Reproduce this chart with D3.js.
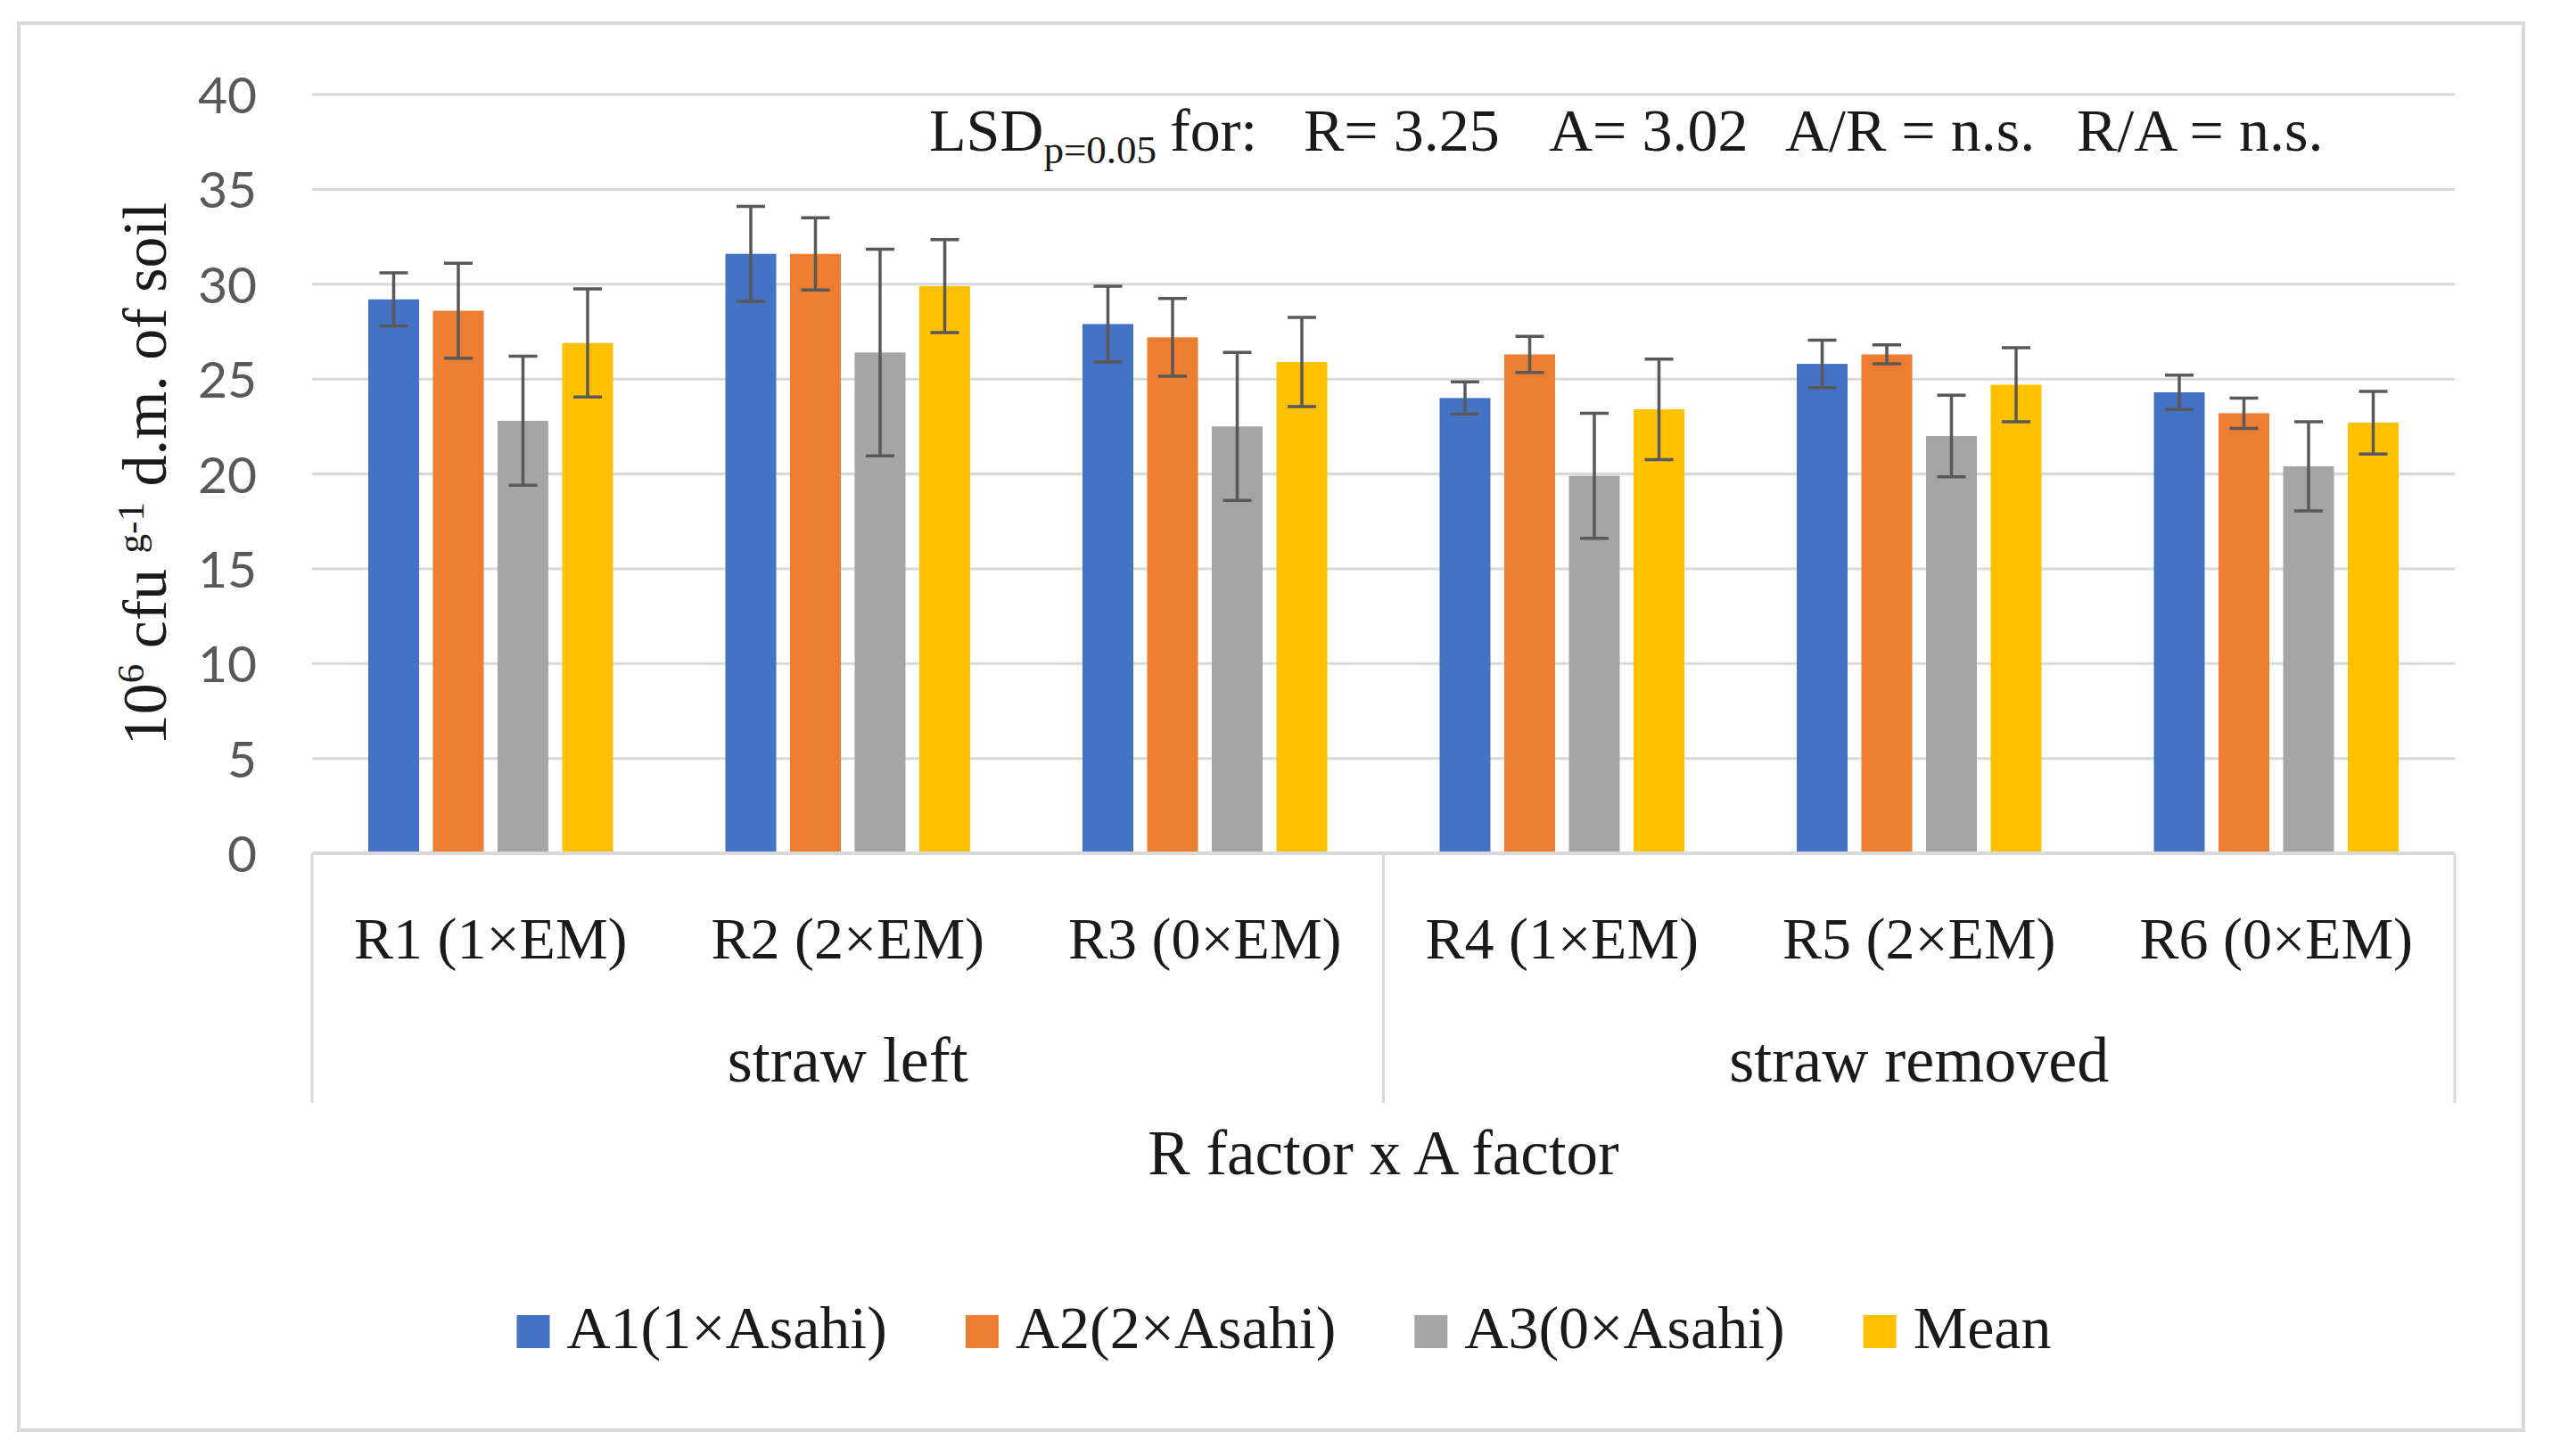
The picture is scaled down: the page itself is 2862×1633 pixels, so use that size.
<!DOCTYPE html>
<html>
<head>
<meta charset="utf-8">
<script src="https://cdn.jsdelivr.net/npm/d3@7"></script>
<style>
  html, body { margin: 0; padding: 0; background: #ffffff; }
  svg { display: block; }
</style>
</head>
<body>
<script>
// ---------------- data ----------------
const categories = ["R1 (1×EM)", "R2 (2×EM)", "R3 (0×EM)", "R4 (1×EM)", "R5 (2×EM)", "R6 (0×EM)"];
const groupLabels = ["straw left", "straw removed"];
const seriesNames = ["A1(1×Asahi)", "A2(2×Asahi)", "A3(0×Asahi)", "Mean"];
const a1Values = [29.2, 31.6, 27.9, 24.0, 25.8, 24.3];
const a1Errors = [1.4, 2.5, 2.0, 0.85, 1.25, 0.9];
const a2Values = [28.6, 31.6, 27.2, 26.3, 26.3, 23.2];
const a2Errors = [2.5, 1.9, 2.05, 0.95, 0.5, 0.8];
const a3Values = [22.8, 26.4, 22.5, 19.9, 22.0, 20.4];
const a3Errors = [3.4, 5.45, 3.9, 3.3, 2.15, 2.35];
const meanValues = [26.9, 29.9, 25.9, 23.4, 24.7, 22.7];
const meanErrors = [2.85, 2.45, 2.35, 2.65, 1.95, 1.65];
const yTicks = [0, 5, 10, 15, 20, 25, 30, 35, 40];
const xAxisTitle = "R factor x A factor";
const lsdPieces = ["for:", "R= 3.25", "A= 3.02", "A/R = n.s.", "R/A = n.s."];

const colors = ["#4472C4", "#ED7D31", "#A5A5A5", "#FFC000"];
const seriesValues = [a1Values, a2Values, a3Values, meanValues];
const seriesErrors = [a1Errors, a2Errors, a3Errors, meanErrors];

// ---------------- layout ----------------
const W = 2862, H = 1633;
const plot = { left: 350, right: 2753, top: 106, bottom: 957 };
const serif = "'Liberation Serif', 'Times New Roman', serif";
const sans = "Lato, 'Open Sans', sans-serif";

const svg = d3.select("body").append("svg")
  .attr("width", W).attr("height", H);

// outer chart border
svg.append("rect")
  .attr("x", 21).attr("y", 26).attr("width", 2809).attr("height", 1578)
  .attr("fill", "#ffffff").attr("stroke", "#d9d9d9").attr("stroke-width", 4);

const x0 = d3.scaleBand().domain(categories).range([plot.left, plot.right]).paddingInner(0).paddingOuter(0);
const bw = x0.bandwidth();
const x1 = d3.scaleBand().domain(seriesNames)
  .range([bw * 0.1573, bw * 0.8427]).paddingInner(0.2138).paddingOuter(0);
const y = d3.scaleLinear().domain([0, 40]).range([plot.bottom, plot.top]);

// gridlines
svg.append("g").selectAll("line").data(yTicks.filter(t => t > 0)).join("line")
  .attr("x1", plot.left).attr("x2", plot.right)
  .attr("y1", d => y(d)).attr("y2", d => y(d))
  .attr("stroke", "#d9d9d9").attr("stroke-width", 3);

// y tick labels
const yAxis = d3.axisLeft(y).tickValues(yTicks).tickSize(0).tickPadding(0);
const yg = svg.append("g").attr("transform", `translate(288,0)`).call(yAxis);
yg.select(".domain").remove();
yg.selectAll("text").attr("font-family", sans).attr("font-size", 57)
  .attr("fill", "#595959").attr("dy", "0.36em");

// bars
const barData = [];
categories.forEach((c, ci) => {
  seriesNames.forEach((s, si) => {
    barData.push({ cat: c, ser: s, si, v: seriesValues[si][ci], e: seriesErrors[si][ci] });
  });
});
svg.append("g").selectAll("rect").data(barData).join("rect")
  .attr("x", d => x0(d.cat) + x1(d.ser))
  .attr("width", x1.bandwidth())
  .attr("y", d => y(d.v))
  .attr("height", d => y(0) - y(d.v))
  .attr("fill", d => colors[d.si]);

// axis baseline
svg.append("line").attr("x1", plot.left).attr("x2", plot.right)
  .attr("y1", y(0)).attr("y2", y(0)).attr("stroke", "#d9d9d9").attr("stroke-width", 4);

// error bars
const eb = svg.append("g").attr("stroke", "#595959").attr("stroke-width", 3.5).attr("fill", "none");
const cap = 16;
barData.forEach(d => {
  const cx = x0(d.cat) + x1(d.ser) + x1.bandwidth() / 2;
  eb.append("line").attr("x1", cx).attr("x2", cx).attr("y1", y(d.v + d.e)).attr("y2", y(d.v - d.e));
  eb.append("line").attr("x1", cx - cap).attr("x2", cx + cap).attr("y1", y(d.v + d.e)).attr("y2", y(d.v + d.e));
  eb.append("line").attr("x1", cx - cap).attr("x2", cx + cap).attr("y1", y(d.v - d.e)).attr("y2", y(d.v - d.e));
});

// multi-level category axis separators
const sepX = [x0(categories[0]), x0(categories[3]), plot.right];
svg.append("g").selectAll("line").data(sepX).join("line")
  .attr("x1", d => d).attr("x2", d => d)
  .attr("y1", y(0)).attr("y2", 1237)
  .attr("stroke", "#d9d9d9").attr("stroke-width", 3);

// category labels
svg.append("g").selectAll("text").data(categories).join("text")
  .attr("x", d => x0(d) + bw / 2).attr("y", 1075)
  .attr("text-anchor", "middle").attr("font-family", serif).attr("font-size", 66)
  .attr("fill", "#1a1a1a").text(d => d);

// group labels
const groupCenters = [
  (x0(categories[0]) + x0(categories[2]) + bw) / 2,
  (x0(categories[3]) + x0(categories[5]) + bw) / 2
];
svg.append("g").selectAll("text").data(groupLabels).join("text")
  .attr("x", (d, i) => groupCenters[i]).attr("y", 1213)
  .attr("text-anchor", "middle").attr("font-family", serif).attr("font-size", 72)
  .attr("fill", "#1a1a1a").text(d => d);

// x axis title
svg.append("text").attr("x", (plot.left + plot.right) / 2).attr("y", 1317)
  .attr("text-anchor", "middle").attr("font-family", serif).attr("font-size", 71)
  .attr("fill", "#1a1a1a").text(xAxisTitle);

// y axis title
const yt = svg.append("text")
  .attr("transform", `translate(186,${(plot.top + plot.bottom) / 2}) rotate(-90)`)
  .attr("text-anchor", "middle").attr("font-family", serif).attr("font-size", 70)
  .attr("fill", "#1a1a1a");
yt.append("tspan").text("10");
yt.append("tspan").attr("font-size", 43).attr("dy", -25).text("6");
yt.append("tspan").attr("dy", 25).text(" cfu ");
yt.append("tspan").attr("font-size", 43).attr("dy", -25).text("g-1");
yt.append("tspan").attr("dy", 25).text(" d.m. of soil");

// LSD annotation
const lsdX = [1312, 1462, 1737, 2002, 2329];
const lsd = svg.append("text").attr("x", 1042).attr("y", 169)
  .attr("font-family", serif).attr("font-size", 68).attr("fill", "#1a1a1a");
lsd.append("tspan").text("LSD");
lsd.append("tspan").attr("font-size", 45).attr("dy", 14).text("p=0.05");
lsdPieces.forEach((p, i) => {
  lsd.append("tspan").attr("x", lsdX[i]).attr("y", 169).text(p);
});

// legend
const legend = svg.append("g");
const sw = 37, gapText = 19, gapItem = 88, legBase = 1512;
let items = seriesNames.map((s, i) => {
  const g = legend.append("g");
  g.append("rect").attr("width", sw).attr("height", sw).attr("y", legBase - sw).attr("fill", colors[i]);
  const t = g.append("text").attr("x", sw + gapText).attr("y", legBase)
    .attr("font-family", serif).attr("font-size", 68).attr("fill", "#1a1a1a").text(s);
  return { g, w: sw + gapText + t.node().getComputedTextLength() };
});
const total = d3.sum(items, d => d.w) + gapItem * (items.length - 1);
let cx = 1440 - total / 2;
items.forEach(it => { it.g.attr("transform", `translate(${cx},0)`); cx += it.w + gapItem; });
</script>
</body>
</html>
